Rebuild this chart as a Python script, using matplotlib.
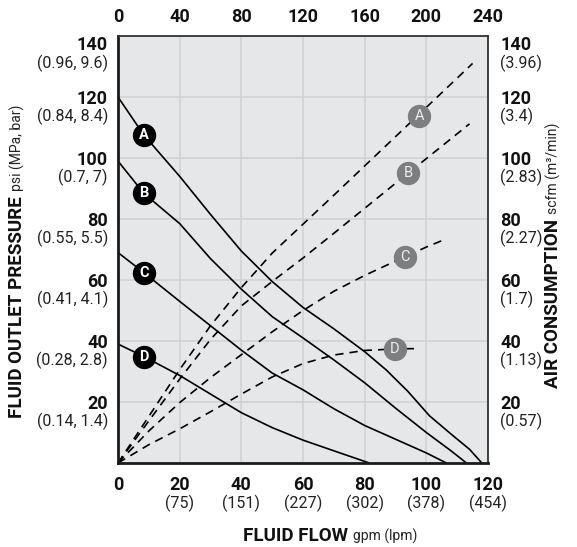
import matplotlib
matplotlib.use("Agg")
import matplotlib.pyplot as plt
import numpy as np

plt.rcParams['font.family'] = ['Roboto', 'DejaVu Sans']

# fluid outlet pressure (psi) vs flow (gpm), solid curves
flow_a = [0, 8.4, 20, 30, 40, 50, 60, 70, 80, 87, 94, 101, 108, 114, 118]
psi_a = [120, 107.5, 94, 81.5, 69.5, 59.5, 51, 44, 36.5, 30.5, 23.5, 15.5, 9.5, 4.5, 0]
flow_b = [0, 8.4, 20, 30, 40, 50, 60, 70, 80, 90, 100, 108, 113]
psi_b = [99, 88.4, 78.5, 67, 57, 48, 41, 33.8, 26.3, 18, 10, 4, 0]
flow_c = [0, 8.4, 20, 30, 40, 50, 60, 70, 80, 90, 100, 106.5]
psi_c = [69, 62.4, 53, 45, 37, 29.5, 24, 17.8, 12.3, 7.8, 3.3, 0]
flow_d = [0, 8.4, 20, 30, 40, 50, 60, 70, 81.5]
psi_d = [39, 34.9, 28.7, 22.6, 16.5, 11.6, 7.5, 4, 0]

# air consumption (scfm) vs flow (gpm), dashed curves
air_flow_a = [0, 10, 20, 30, 40, 50, 60, 70, 80, 90, 100, 115]
scfm_a = [0, 15.3, 30.6, 45, 57.5, 68.8, 78.3, 87.8, 97.4, 107, 116.6, 131]
air_flow_b = [0, 10, 20, 30, 40, 50, 60, 70, 80, 90, 100, 114]
scfm_b = [0, 13.8, 27.5, 40.5, 51.5, 59.5, 67.2, 75.3, 83.5, 91.7, 99.8, 111.2]
air_flow_c = [0, 10, 20, 30, 40, 50, 60, 70, 80, 90, 100, 106]
scfm_c = [0, 10.5, 19.8, 28, 35.5, 43, 50, 56.3, 61.5, 66.2, 70.8, 73.3]
air_flow_d = [0, 10, 20, 30, 40, 50, 60, 70, 80, 90, 96]
scfm_d = [0, 6, 11.2, 16.8, 22.6, 28.2, 32.6, 35.4, 36.9, 37.4, 37.5]

curve_labels = ['A', 'B', 'C', 'D']
label_flow = [8.4, 8.4, 8.4, 8.4]
label_psi = [107.5, 88.4, 62.4, 34.9]
air_label_flow = [97.7, 94, 93.2, 89.8]
air_label_scfm = [113.8, 95, 67.6, 37.4]

flow_ticks = [0, 20, 40, 60, 80, 100, 120]
lpm_labels = ['', '(75)', '(151)', '(227)', '(302)', '(378)', '(454)']
scfm_top_ticks = [0, 40, 80, 120, 160, 200, 240]
psi_ticks = [20, 40, 60, 80, 100, 120, 140]
mpa_labels = ['(0.14, 1.4)', '(0.28, 2.8)', '(0.41, 4.1)', '(0.55, 5.5)',
              '(0.7, 7)', '(0.84, 8.4)', '(0.96, 9.6)']
m3_labels = ['(0.57)', '(1.13)', '(1.7)', '(2.27)', '(2.83)', '(3.4)', '(3.96)']

W, H = 577, 547
fig = plt.figure(figsize=(W / 100, H / 100), dpi=100)
ax = fig.add_axes([118 / W, 1 - 463 / H, 370 / W, 427 / H])
ax.set_facecolor('#e6e7e9')
ax.set_xlim(0, 120)
ax.set_ylim(0, 140)
ax.set_xticks(flow_ticks)
ax.set_yticks(psi_ticks)
ax.tick_params(length=0, labelbottom=False, labelleft=False)
ax.grid(True, color='#d1d2d4', linewidth=1.2)
ax.set_axisbelow(True)
for side in ['left', 'bottom']:
    ax.spines[side].set_linewidth(2.0)
    ax.spines[side].set_color('#1a1a1a')
for side in ['top', 'right']:
    ax.spines[side].set_linewidth(1.3)
    ax.spines[side].set_color('#333333')

solid = [(flow_a, psi_a), (flow_b, psi_b), (flow_c, psi_c), (flow_d, psi_d)]
dashed = [(air_flow_a, scfm_a), (air_flow_b, scfm_b), (air_flow_c, scfm_c), (air_flow_d, scfm_d)]
for x, y in solid:
    ax.plot(x, y, color='black', linewidth=1.2, solid_capstyle='butt', clip_on=False)
for x, y in dashed:
    ax.plot(x, y, color='black', linewidth=1.2, dashes=(5, 3.6))

ax.scatter(label_flow, label_psi, s=250, color='black', zorder=5, clip_on=False)
ax.scatter(air_label_flow, air_label_scfm, s=250, color='#7d7e80', zorder=5)
for i, lab in enumerate(curve_labels):
    ax.text(label_flow[i], label_psi[i], lab, color='white', fontsize=10.5,
            fontweight='bold', ha='center', va='center', zorder=6)
    ax.text(air_label_flow[i], air_label_scfm[i], lab, color='#eeeeee', fontsize=10.5,
            ha='center', va='center', zorder=6)

xt = ax.get_xaxis_transform()
yt = ax.get_yaxis_transform()
num_font = dict(fontsize=13, fontweight='bold', color='#111111')
sub_font = dict(fontsize=11.5, color='#222222')

# bottom ticks (gpm / lpm)
for v, s in zip(flow_ticks, lpm_labels):
    ax.annotate(str(v), (v, 0), xycoords=xt, xytext=(0, -22 * 0.72),
                textcoords='offset points', ha='center', va='center', **num_font)
    if s:
        ax.annotate(s, (v, 0), xycoords=xt, xytext=(0, -40 * 0.72),
                    textcoords='offset points', ha='center', va='center', **sub_font)

# top ticks (scfm)
for v, s in zip(flow_ticks, scfm_top_ticks):
    ax.annotate(str(s), (v, 1), xycoords=xt, xytext=(0, 19 * 0.72),
                textcoords='offset points', ha='center', va='center', **num_font)

# left and right ticks
for v, s1, s2 in zip(psi_ticks, mpa_labels, m3_labels):
    d1 = -2 if v < 140 else -9
    d2 = -19 if v < 140 else -27
    ax.annotate(str(v), (0, v), xycoords=yt, xytext=(-10 * 0.72, d1 * 0.72),
                textcoords='offset points', ha='right', va='center', **num_font)
    ax.annotate(s1, (0, v), xycoords=yt, xytext=(-10 * 0.72, d2 * 0.72),
                textcoords='offset points', ha='right', va='center', **sub_font)
    ax.annotate(str(v), (1, v), xycoords=yt, xytext=(12 * 0.72, d1 * 0.72),
                textcoords='offset points', ha='left', va='center', **num_font)
    ax.annotate(s2, (1, v), xycoords=yt, xytext=(12 * 0.72, d2 * 0.72),
                textcoords='offset points', ha='left', va='center', **sub_font)

# axis titles: bold part + small regular part
fig.canvas.draw()
r = fig.canvas.get_renderer()


def two_part(x, y, bold, small, rot):
    t1 = fig.text(x / W, 1 - y / H, bold, fontsize=13.5, fontweight='bold',
                  color='#111111', rotation=rot, ha='left' if rot == 0 else 'center',
                  va='baseline' if rot == 0 else 'bottom')
    bb = t1.get_window_extent(r)
    if rot == 0:
        fig.text((bb.x1 + 5) / W, 1 - y / H, small, fontsize=10, color='#222222',
                 ha='left', va='baseline')
    else:
        fig.text(x / W, (bb.y1 + 5) / H, small, fontsize=10, color='#222222',
                 rotation=90, ha='center', va='bottom')


two_part(243, 541, 'FLUID FLOW', 'gpm (lpm)', 0)
two_part(17, 418, 'FLUID OUTLET PRESSURE', 'psi (MPa, bar)', 90)
two_part(553, 388, 'AIR CONSUMPTION', 'scfm (m\u00b3/min)', 90)

fig.savefig('out.png', dpi=100)
